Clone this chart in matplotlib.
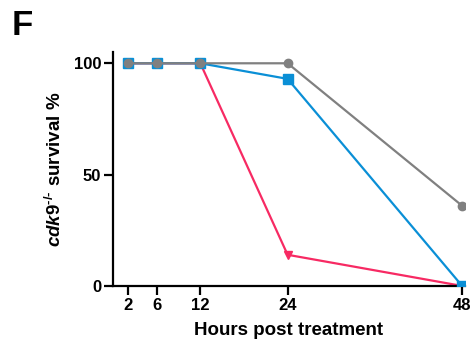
import matplotlib
matplotlib.use('Agg')
import matplotlib.pyplot as plt

plt.rcParams['font.family'] = ['Liberation Sans', 'DejaVu Sans']
plt.rcParams['font.weight'] = 'bold'
plt.rcParams['mathtext.fontset'] = 'custom'
plt.rcParams['mathtext.rm'] = 'Liberation Sans:bold'
plt.rcParams['mathtext.it'] = 'Liberation Sans:bold:italic'
plt.rcParams['mathtext.bf'] = 'Liberation Sans:bold'

hours = [2, 6, 12, 24, 48]
grey_vals = [100, 100, 100, 100, 36]
blue_vals = [100, 100, 100, 93, 0]
red_vals = [100, 100, 100, 14, 0]

fig = plt.figure(figsize=(4.77, 3.5), dpi=100)
ax = fig.add_axes([0.237, 0.183, 0.738, 0.668])

ax.plot(hours, red_vals, color='#f72a63', lw=1.6, marker='v', ms=6, zorder=2)
ax.plot(hours, blue_vals, color='#0a8fd6', lw=1.6, marker='s', ms=7, zorder=3)
ax.plot(hours, grey_vals, color='#808080', lw=1.6, marker='o', ms=6, zorder=4)

ax.set_xlim(0, 48.4)
ax.set_ylim(0, 105)
ax.set_xticks(hours)
ax.set_yticks([0, 50, 100])
ax.spines['top'].set_visible(False)
ax.spines['right'].set_visible(False)
ax.spines['left'].set_linewidth(1.6)
ax.spines['bottom'].set_linewidth(1.6)
ax.tick_params(width=1.6, length=6.5, labelsize=12, pad=2)
for lab in ax.get_xticklabels() + ax.get_yticklabels():
    lab.set_fontweight('bold')

ax.set_xlabel('Hours post treatment', fontsize=13.5, fontweight='bold', labelpad=7)
ax.set_ylabel(r'$\mathit{cdk9}^{\text{-/-}}$ survival %', fontsize=13.5,
              fontweight='bold', labelpad=6)

fig.text(0.025, 0.975, 'F', fontsize=25, fontweight='bold', va='top', ha='left')

fig.savefig('out.png', dpi=100)
